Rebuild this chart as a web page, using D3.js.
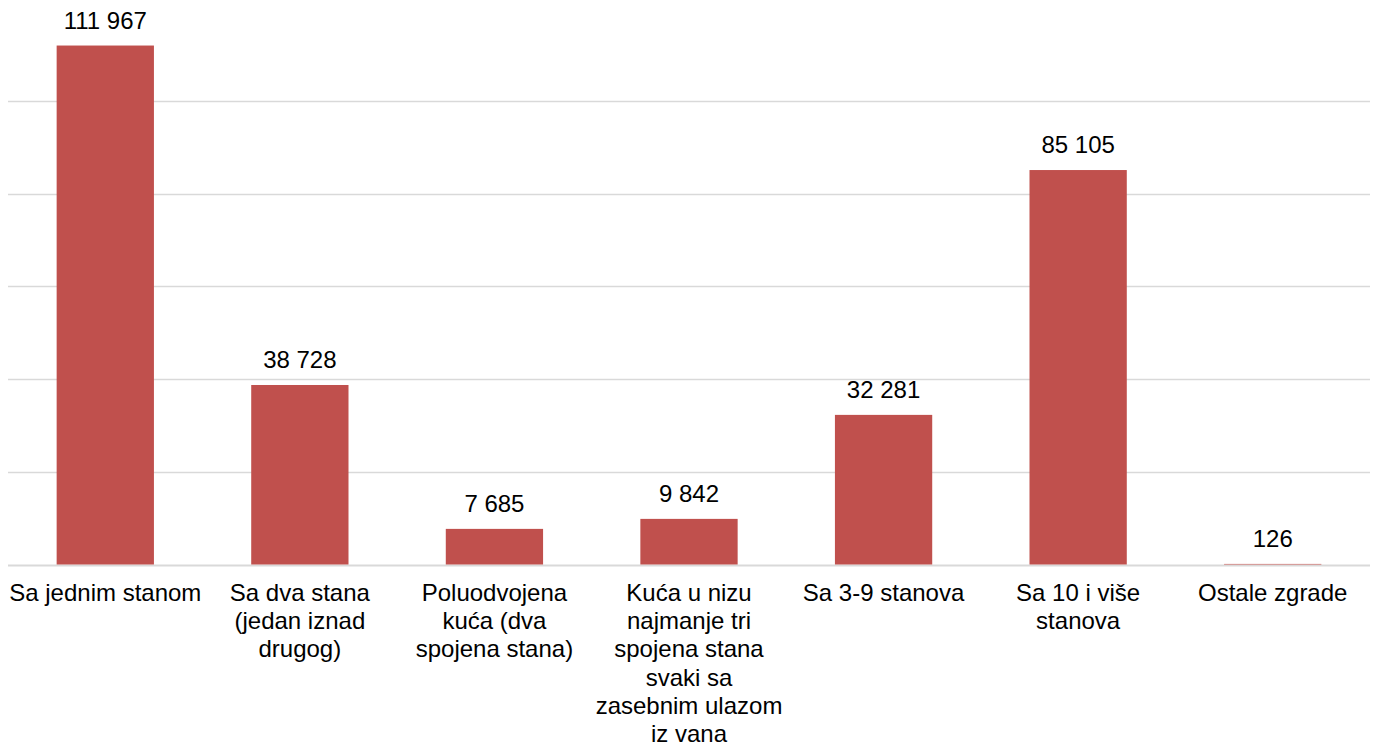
<!DOCTYPE html>
<html><head><meta charset="utf-8">
<script src="https://cdn.jsdelivr.net/npm/d3@7"></script>
<style>body{margin:0;background:#fff}svg{display:block}text{font-family:"Liberation Sans",Arial,sans-serif;fill:#000}</style>
</head><body>
<svg id="c" width="1376" height="742"></svg>
<script>
const categories = ["Sa jednim stanom","Sa dva stana\n(jedan iznad\ndrugog)","Poluodvojena\nkuća (dva\nspojena stana)","Kuća u nizu\nnajmanje tri\nspojena stana\nsvaki sa\nzasebnim ulazom\niz vana","Sa 3-9 stanova","Sa 10 i više\nstanova","Ostale zgrade"];
const values = [111967,38728,7685,9842,32281,85105,126];
const valueLabels = ["111 967","38 728","7 685","9 842","32 281","85 105","126"];
const gridTicks = [0,20000,40000,60000,80000,100000];

const svg = d3.select("#c");
const x = d3.scaleBand().domain(categories).range([8,1370]).paddingInner(0.5).paddingOuter(0.25);
const y = d3.scaleLinear().domain([0,120000]).range([564.5,8.3]);

svg.append("g").selectAll("line").data(gridTicks).join("line")
  .attr("x1",8).attr("x2",1370)
  .attr("y1",d=>Math.round(y(d))+0.5).attr("y2",d=>Math.round(y(d))+0.5)
  .attr("stroke","#d9d9d9").attr("stroke-width",d=>d===0?2:1.5);

svg.append("g").selectAll("rect").data(values).join("rect")
  .attr("x",(d,i)=>x(categories[i])).attr("width",x.bandwidth())
  .attr("y",d=>y(d)).attr("height",d=>y(0)-y(d))
  .attr("fill","#c0504d");

svg.append("g").selectAll("text").data(values).join("text")
  .attr("x",(d,i)=>x(categories[i])+x.bandwidth()/2)
  .attr("y",d=>y(d)-17)
  .attr("text-anchor","middle").attr("font-size",24)
  .text((d,i)=>valueLabels[i]);

const lab = svg.append("g").selectAll("text").data(categories).join("text")
  .attr("x",d=>x(d)+x.bandwidth()/2).attr("y",601)
  .attr("text-anchor","middle").attr("font-size",24);
lab.each(function(d){
  const t=d3.select(this); const cx=x(d)+x.bandwidth()/2;
  d.split("\n").forEach((s,i)=>t.append("tspan").attr("x",cx).attr("dy",i?28.2:0).text(s));
});
</script></body></html>
